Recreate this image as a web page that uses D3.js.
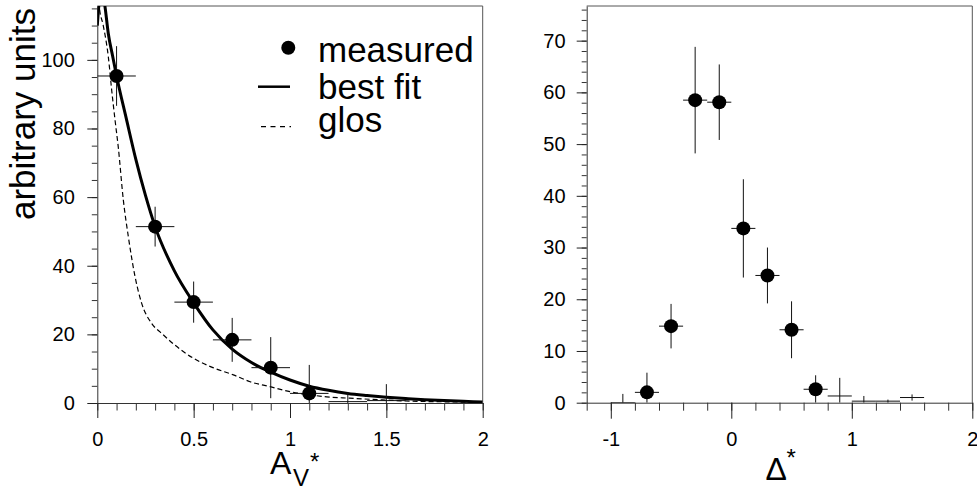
<!DOCTYPE html>
<html><head><meta charset="utf-8">
<script src="https://cdn.jsdelivr.net/npm/d3@7/dist/d3.min.js"></script>
<style>
html,body{margin:0;padding:0;background:#fff;}
svg{display:block;font-family:"Liberation Sans",Arial,Helvetica,sans-serif;}
</style></head>
<body>
<svg id="c" width="977" height="490"></svg>
<script>
// ---------- data ----------
// left panel: A_V* distribution
const avBins   = [0.1, 0.3, 0.5, 0.7, 0.9, 1.1, 1.3, 1.5];
const avValues = [95.3, 51.4, 29.4, 18.4, 10.3, 2.8, 0.4, 0.7];
const avErrors = [8.7, 5.8, 6.0, 6.4, 8.9, 8.3, 2.6, 4.8];
const avHalfWidth = 0.1;
const fitX = [0, 0.01, 0.02, 0.03, 0.04, 0.057, 0.08, 0.1, 0.15, 0.2, 0.25, 0.3, 0.4, 0.5, 0.6, 0.7, 0.8, 0.9, 1.0, 1.1, 1.2, 1.3, 1.4, 1.5, 1.6, 1.7, 1.8, 1.9, 2.0];
const fitY = [110, 117, 120, 119, 115.5, 107.7, 101, 95.3, 83, 71, 60.5, 51.4, 38.5, 29.2, 21.3, 15.7, 11.8, 9.0, 6.7, 4.9, 3.7, 2.8, 2.2, 1.7, 1.3, 0.95, 0.7, 0.5, 0.3];
const glosX = [0, 0.01, 0.031, 0.057, 0.075, 0.092, 0.109, 0.135, 0.161, 0.196, 0.23, 0.282, 0.334, 0.4, 0.5, 0.6, 0.706, 0.793, 0.897, 1.0, 1.1, 1.19, 1.31, 1.48, 1.6, 1.8, 2.0];
const glosY = [124, 115.6, 110, 101, 91, 82.5, 74.5, 59.2, 48.5, 36.8, 29.1, 23.2, 20.3, 17.0, 13.0, 10.3, 8.2, 6.2, 4.75, 3.3, 2.4, 1.8, 1.4, 0.9, 0.6, 0.35, 0.2];
const avXTicks = [0, 0.5, 1, 1.5, 2];
const avXTickLabels = ["0", "0.5", "1", "1.5", "2"];
const avYTicks = [0, 20, 40, 60, 80, 100];
const legendLabels = ["measured", "best fit", "glos"];

// right panel: Delta* distribution
const dBins   = [-0.9, -0.7, -0.5, -0.3, -0.1, 0.1, 0.3, 0.5, 0.7, 0.9, 1.1, 1.3, 1.5];
const dValues = [0.0, 2.0, 14.8, 58.5, 58.1, 33.7, 24.6, 14.1, 2.6, 1.3, 0.3, 0.3, 1.0];
const dErrors = [1.7, 3.8, 4.3, 10.3, 7.3, 9.5, 5.4, 5.5, 2.7, 3.5, 1.0, 0.3, 0.6];
const dHalfWidth = 0.1;
const dXTicks = [-1, 0, 1, 2];
const dXTickLabels = ["-1", "0", "1", "2"];
const dYTicks = [0, 10, 20, 30, 40, 50, 60, 70];

// ---------- drawing ----------
const svg = d3.select("#c");
const FONT = '"Liberation Sans",Arial,Helvetica,sans-serif';
const markerMin = 1.8;

function panel(opt) {
  const x = d3.scaleLinear().domain(opt.xDom).range([opt.x0, opt.x1]);
  const y = d3.scaleLinear().domain(opt.yDom).range([opt.y0, opt.y1]);
  const g = svg.append("g");
  const cid = "clip" + opt.id;
  svg.append("clipPath").attr("id", cid).append("rect")
    .attr("x", opt.x0).attr("y", opt.y1).attr("width", opt.x1 - opt.x0).attr("height", opt.y0 - opt.y1);

  // frame (top / right)
  g.append("path").attr("d", `M${opt.x0},${opt.y1}H${opt.x1}V${opt.y0}`)
    .attr("fill", "none").attr("stroke", "#555").attr("stroke-width", 1);

  // minor ticks
  const xMinor = d3.range(opt.xDom[0], opt.xDom[1] + 1e-9, opt.xMinorStep).map(v => +v.toFixed(6));
  const yMinor = d3.range(opt.yDom[0], opt.yDom[1] + 1e-9, opt.yMinorStep).map(v => +v.toFixed(6));
  g.append("g").attr("transform", `translate(0,${opt.y0})`)
    .call(d3.axisBottom(x).tickValues(xMinor).tickSize(opt.xMinorLen).tickSizeOuter(0).tickFormat(""))
    .call(s => { s.select(".domain").remove(); s.selectAll("line").attr("stroke", "#333"); });
  g.append("g").attr("transform", `translate(${opt.x0},0)`)
    .call(d3.axisLeft(y).tickValues(yMinor).tickSize(opt.yMinorLen).tickSizeOuter(0).tickFormat(""))
    .call(s => { s.select(".domain").remove(); s.selectAll("line").attr("stroke", "#333"); });

  // major ticks + labels
  g.append("g").attr("transform", `translate(0,${opt.y0})`)
    .call(d3.axisBottom(x).tickValues(opt.xTicks).tickSize(opt.xMajorLen).tickSizeOuter(0)
      .tickPadding(opt.xPad).tickFormat((d, i) => opt.xLabels[i]))
    .call(s => {
      s.select(".domain").attr("stroke", "#333");
      s.selectAll("line").attr("stroke", "#222");
      s.selectAll("text").attr("font-size", 20).attr("font-family", FONT).attr("fill", "#000");
    });
  g.append("g").attr("transform", `translate(${opt.x0},0)`)
    .call(d3.axisLeft(y).tickValues(opt.yTicks).tickSize(opt.yMajorLen).tickSizeOuter(0).tickPadding(opt.yPad))
    .call(s => {
      s.select(".domain").attr("stroke", "#333");
      s.selectAll("line").attr("stroke", "#222");
      s.selectAll("text").attr("font-size", 20).attr("font-family", FONT).attr("fill", "#000");
    });

  const plot = g.append("g").attr("clip-path", `url(#${cid})`);
  return {x, y, g, plot};
}

function drawPoints(p, bins, vals, errs, hw) {
  const pts = bins.map((b, i) => ({b, v: vals[i], e: errs[i]}));
  const eg = p.plot.append("g").attr("stroke", "#111").attr("stroke-width", 1);
  eg.selectAll("line.h").data(pts).join("line").attr("class", "h")
    .attr("x1", d => p.x(d.b - hw)).attr("x2", d => p.x(d.b + hw))
    .attr("y1", d => p.y(d.v)).attr("y2", d => p.y(d.v));
  eg.selectAll("line.v").data(pts).join("line").attr("class", "v")
    .attr("x1", d => p.x(d.b)).attr("x2", d => p.x(d.b))
    .attr("y1", d => p.y(Math.max(0, d.v - d.e))).attr("y2", d => p.y(d.v + d.e));
  p.plot.append("g").selectAll("circle").data(pts.filter(d => d.v >= markerMin)).join("circle")
    .attr("cx", d => p.x(d.b)).attr("cy", d => p.y(d.v)).attr("r", 7).attr("fill", "#000");
}

// ----- left panel -----
const PL = panel({id: "L", xDom: [0, 2], yDom: [0, 115.7], x0: 97.3, x1: 482.7, y0: 403, y1: 6,
  xTicks: avXTicks, xLabels: avXTickLabels, yTicks: avYTicks, xMinorStep: 0.1, yMinorStep: 5,
  xMajorLen: 15, xMinorLen: 7.5, yMajorLen: 10, yMinorLen: 5.5, xPad: 13.5, yPad: 12.5});

const lineL = d3.line().x(d => PL.x(d[0])).y(d => PL.y(d[1])).curve(d3.curveMonotoneX);
PL.plot.append("path").datum(glosX.map((v, i) => [v, glosY[i]])).attr("d", lineL)
  .attr("fill", "none").attr("stroke", "#000").attr("stroke-width", 1.2).attr("stroke-dasharray", "5,3");
PL.plot.append("path").datum(fitX.map((v, i) => [v, fitY[i]])).attr("d", lineL)
  .attr("fill", "none").attr("stroke", "#000").attr("stroke-width", 3);
drawPoints(PL, avBins, avValues, avErrors, avHalfWidth);

// legend
const lg = svg.append("g").attr("font-family", FONT).attr("font-size", 35);
lg.append("circle").attr("cx", 288.3).attr("cy", 47.7).attr("r", 7).attr("fill", "#000");
lg.append("line").attr("x1", 258).attr("x2", 290).attr("y1", 86.7).attr("y2", 86.7).attr("stroke", "#000").attr("stroke-width", 2.5);
lg.append("line").attr("x1", 261).attr("x2", 291).attr("y1", 126.7).attr("y2", 126.7).attr("stroke", "#000").attr("stroke-width", 1.3).attr("stroke-dasharray", "5,4.5");
[61.5, 99, 132].forEach((yy, i) => lg.append("text").attr("x", 318).attr("y", yy).text(legendLabels[i]));

// y title
svg.append("text").attr("transform", "translate(34.5,8) rotate(-90)").attr("text-anchor", "end")
  .attr("font-family", FONT).attr("font-size", 35).text("arbitrary units");

// x title left
const cxL = PL.x(1);
svg.append("text").attr("x", cxL - 20).attr("y", 474).attr("font-family", FONT).attr("font-size", 32).text("A");
svg.append("text").attr("x", cxL + 3).attr("y", 486).attr("font-family", FONT).attr("font-size", 24).text("V");
svg.append("text").attr("x", cxL + 20).attr("y", 470).attr("font-family", FONT).attr("font-size", 24).text("*");

// ----- right panel -----
const PR = panel({id: "R", xDom: [-1.2, 2], yDom: [0, 76.7], x0: 586.7, x1: 972.3, y0: 402.7, y1: 6,
  xTicks: dXTicks, xLabels: dXTickLabels, yTicks: dYTicks, xMinorStep: 0.2, yMinorStep: 2,
  xMajorLen: 16, xMinorLen: 8, yMajorLen: 10, yMinorLen: 5, xPad: 13, yPad: 11.2});
drawPoints(PR, dBins, dValues, dErrors, dHalfWidth);

const cxR = (PR.x.range()[0] + PR.x.range()[1]) / 2;
svg.append("text").attr("x", cxR - 14).attr("y", 480).attr("font-family", FONT).attr("font-size", 32).text("Δ");
svg.append("text").attr("x", cxR + 7).attr("y", 466).attr("font-family", FONT).attr("font-size", 24).text("*");
</script>
</body></html>
